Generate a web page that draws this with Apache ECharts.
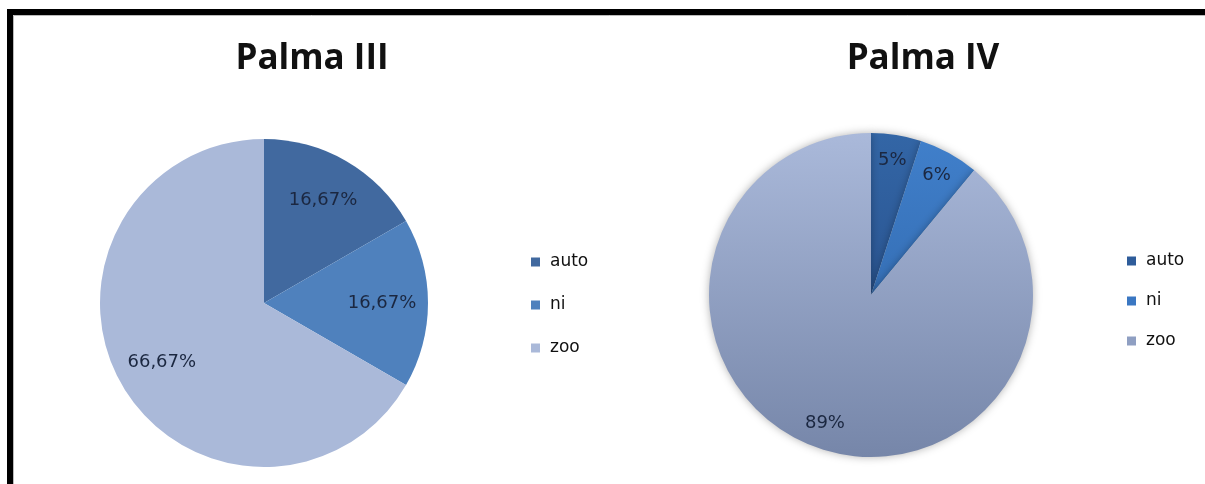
<!DOCTYPE html>
<html>
<head>
<meta charset="utf-8">
<script src="https://cdn.jsdelivr.net/npm/echarts@6/dist/echarts.min.js"></script>
<style>
  body { margin: 0; background: #fff; }
  #main { width: 1205px; height: 484px; }
</style>
</head>
<body>
<div id="main"></div>
<script>
var categories = ['auto', 'ni', 'zoo'];
var palma3Values = [16.67, 16.67, 66.67];
var palma4Values = [5, 6, 89];
var palma3Labels = ['16,67%', '16,67%', '66,67%'];
var palma4Labels = ['5%', '6%', '89%'];

var leftColors = ['#41699f', '#4f81bd', '#aab9d9'];
var rightTop = ['#3366a6', '#407fca', '#aab9da'];
var rightBottom = ['#2a5592', '#356fb6', '#7686a9'];

function grad(a, b) {
  return new echarts.graphic.LinearGradient(0, 0, 0, 1, [
    { offset: 0, color: a },
    { offset: 1, color: b }
  ]);
}

function pieData(values, colorFn) {
  return categories.map(function (c, i) {
    return { name: c, value: values[i], itemStyle: { color: colorFn(i) } };
  });
}

function labelData(values, labels) {
  return categories.map(function (c, i) {
    return { name: c, value: values[i], label: { formatter: labels[i] } };
  });
}

var labelStyle = {
  show: true,
  position: 'inside',
  color: '#1b2740',
  fontFamily: 'DejaVu Sans',
  fontSize: 18
};

var titleStyle = {
  fontFamily: 'Open Sans',
  fontWeight: 'bold',
  fontSize: 35,
  color: '#111'
};

var legendText = {
  fontFamily: 'DejaVu Sans', fontSize: 17, color: '#111', lineHeight: 20,
  padding: [0, 0, 0, 5]
};

var myChart = echarts.init(document.getElementById('main'));
var option = {
  animation: false,
  graphic: [
    {
      type: 'rect',
      shape: { x: 10, y: 12, width: 1400, height: 700 },
      style: { fill: 'none', stroke: '#000', lineWidth: 6 }
    },
    {
      type: 'rect',
      shape: { x: 13.5, y: 15.5, width: 1400, height: 700 },
      style: { fill: 'none', stroke: '#bbb', lineWidth: 1 }
    }
  ],
  title: [
    { text: 'Palma III', left: 307, top: 37, textAlign: 'center', textStyle: titleStyle },
    { text: 'Palma IV', left: 918, top: 37, textAlign: 'center', textStyle: titleStyle }
  ],
  legend: [
    {
      orient: 'vertical',
      left: 531,
      top: 252,
      padding: 0,
      itemWidth: 9,
      itemHeight: 9,
      itemGap: 23,
      icon: 'rect',
      selectedMode: false,
      textStyle: legendText,
      data: categories.map(function (c, i) {
        return { name: c, itemStyle: { color: leftColors[i] } };
      })
    },
    {
      orient: 'vertical',
      left: 1127,
      top: 251,
      padding: 0,
      itemWidth: 9,
      itemHeight: 9,
      itemGap: 20,
      icon: 'rect',
      selectedMode: false,
      textStyle: legendText,
      data: categories.map(function (c, i) {
        return { name: c, itemStyle: { color: ['#2e5c9a', '#3a77c2', '#8f9fc2'][i] } };
      })
    }
  ],
  series: [
    {
      name: 'Palma III',
      type: 'pie',
      center: [264, 303],
      radius: 164,
      startAngle: 90,
      label: { show: false },
      labelLine: { show: false },
      emphasis: { disabled: true },
      data: pieData(palma3Values, function (i) { return leftColors[i]; })
    },
    {
      name: 'Palma III labels',
      type: 'pie',
      center: [264, 303],
      radius: [66, 164],
      startAngle: 90,
      silent: true,
      itemStyle: { color: 'rgba(0,0,0,0)' },
      label: labelStyle,
      labelLine: { show: false },
      data: labelData(palma3Values, palma3Labels)
    },
    {
      name: 'Palma IV',
      type: 'pie',
      center: [871, 295],
      radius: 162,
      startAngle: 90,
      label: { show: false },
      labelLine: { show: false },
      emphasis: { disabled: true },
      itemStyle: { shadowBlur: 8, shadowColor: 'rgba(0,0,0,0.3)' },
      data: pieData(palma4Values, function (i) { return grad(rightTop[i], rightBottom[i]); })
    },
    {
      name: 'Palma IV labels',
      type: 'pie',
      center: [871, 295],
      radius: [104, 162],
      startAngle: 90,
      silent: true,
      itemStyle: { color: 'rgba(0,0,0,0)' },
      label: labelStyle,
      labelLine: { show: false },
      data: labelData(palma4Values, palma4Labels)
    }
  ]
};
myChart.setOption(option);
</script>
</body>
</html>
